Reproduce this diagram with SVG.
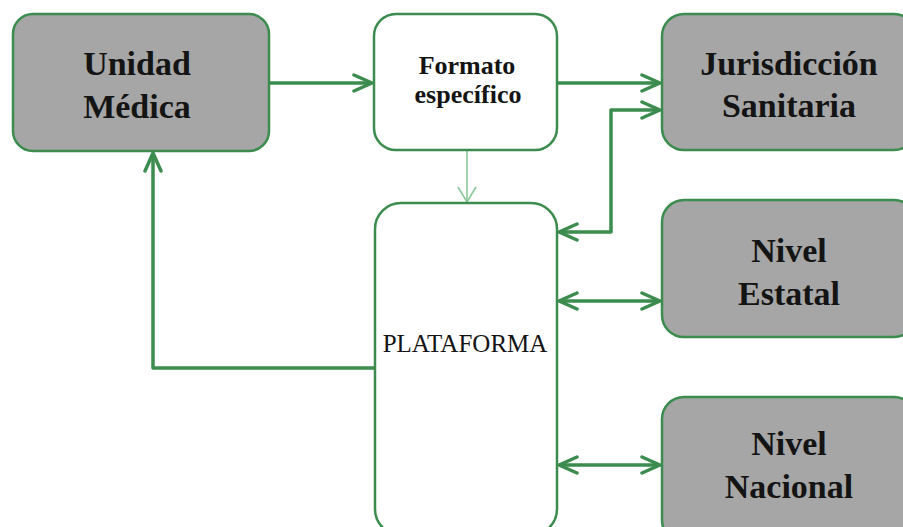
<svg xmlns="http://www.w3.org/2000/svg" width="903" height="527" viewBox="0 0 903 527">
<style>
.box{stroke:#3b8c4e;stroke-width:2.5}
.gray{fill:#a6a6a6}
.white{fill:#ffffff}
.big{font-family:"Liberation Serif",serif;font-weight:bold;font-size:34px;fill:#141414;text-anchor:middle}
.mid{font-family:"Liberation Serif",serif;font-weight:bold;font-size:26px;fill:#141414;text-anchor:middle}
.plat{font-family:"Liberation Serif",serif;font-size:25px;fill:#141414;text-anchor:middle}
.con{fill:none;stroke:#3b8c4e;stroke-width:3.5;stroke-linejoin:round}
.thin{fill:none;stroke:#8cc79a;stroke-width:1.6}
</style>
<defs>
<marker id="ah" viewBox="0 0 22 20" refX="20" refY="10" markerWidth="22" markerHeight="20" markerUnits="userSpaceOnUse" orient="auto-start-reverse">
<path d="M2,2 L20,10 L2,18" fill="none" stroke="#3b8c4e" stroke-width="3.5" stroke-linecap="round" stroke-linejoin="round"/>
</marker>
<marker id="ahThin" viewBox="0 0 18 20" refX="16" refY="10" markerWidth="18" markerHeight="20" markerUnits="userSpaceOnUse" orient="auto">
<path d="M1,1 L16,10 L1,19" fill="none" stroke="#8cc79a" stroke-width="1.6"/>
</marker>
</defs>
<rect width="903" height="527" fill="#ffffff"/>
<g id="connectors">
<line class="con" x1="269" y1="83" x2="372" y2="83" marker-end="url(#ah)"/>
<line class="con" x1="557" y1="83" x2="660" y2="83" marker-end="url(#ah)"/>
<line class="thin" x1="467" y1="150" x2="467" y2="202" marker-end="url(#ahThin)"/>
<polyline class="con" points="559,232 611,232 611,110 660,110" marker-start="url(#ah)" marker-end="url(#ah)"/>
<line class="con" x1="559" y1="301" x2="660" y2="301" marker-start="url(#ah)" marker-end="url(#ah)"/>
<line class="con" x1="559" y1="465" x2="660" y2="465" marker-start="url(#ah)" marker-end="url(#ah)"/>
<polyline class="con" points="375,368 153,368 153,153" marker-end="url(#ah)"/>
</g>
<g id="unidad-medica">
<rect class="box gray" x="13" y="14" width="256" height="137" rx="20"/>
<text class="big" x="137" y="75">Unidad</text>
<text class="big" x="137" y="118">Médica</text>
</g>
<g id="formato-especifico">
<rect class="box white" x="374" y="14" width="183" height="136" rx="22"/>
<text class="mid" x="467" y="74">Formato</text>
<text class="mid" x="468" y="103">específico</text>
</g>
<g id="jurisdiccion-sanitaria">
<rect class="box gray" x="662" y="14" width="254" height="136" rx="22"/>
<text class="big" x="789" y="75">Jurisdicción</text>
<text class="big" x="789" y="117">Sanitaria</text>
</g>
<g id="plataforma">
<rect class="box white" x="375" y="203" width="182" height="332" rx="26"/>
<text class="plat" x="465" y="352">PLATAFORMA</text>
</g>
<g id="nivel-estatal">
<rect class="box gray" x="662" y="200" width="254" height="137" rx="22"/>
<text class="big" x="789" y="262">Nivel</text>
<text class="big" x="789" y="305">Estatal</text>
</g>
<g id="nivel-nacional">
<rect class="box gray" x="662" y="397" width="254" height="145" rx="22"/>
<text class="big" x="789" y="455">Nivel</text>
<text class="big" x="789" y="498">Nacional</text>
</g>
</svg>
